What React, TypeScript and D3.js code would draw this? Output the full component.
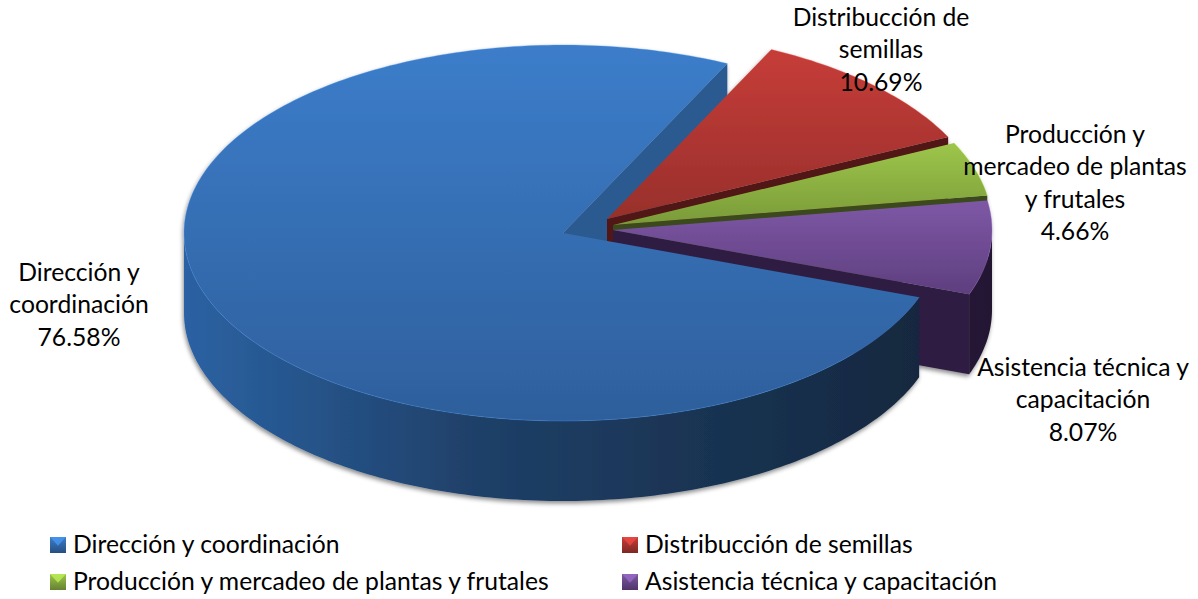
import React from "react";
import * as d3 from "d3";

const categories = [
  "Dirección y coordinación",
  "Distribucción de semillas",
  "Producción y mercadeo de plantas y frutales",
  "Asistencia técnica y capacitación",
];
const values = [76.58, 10.69, 4.66, 8.07];
const labelLines = [
  ["Dirección y", "coordinación"],
  ["Distribucción de", "semillas"],
  ["Producción y", "mercadeo de plantas", "y frutales"],
  ["Asistencia técnica y", "capacitación"],
];

// Layout and styling, apart from the data
const W = 1198, H = 599;
const RX = 379, RY = 188, DEPTH = 80;
const centers = [[563, 233], [607, 219], [613, 225], [613, 230]];
const labelPos = [[79, 273], [881, 18], [1075, 135], [1083, 368]];
const LINE = 32.3;
const gradY = [[45, 421], [48, 222], [143, 225], [200, 295]];
const topStops = [
  ["#3c7dca", "#2e5f9c"],
  ["#c73d39", "#972f2b"],
  ["#9dc64a", "#7a9a39"],
  ["#7e58a6", "#5e3e7e"],
];
const radialWall = ["#2a5a90", "#511412", "#3a4a1a", "#2e1e42"];
const outerStops = [
  ["#2b62a3", "#14283f"],
  ["#511412", "#3a0f0d"],
  ["#3a4a1a", "#2a3612"],
  ["#281a39", "#241733"],
];
const legendPos = [[50, 545], [622, 545], [50, 582], [622, 582]];
const fontFamily = "Lato, Carlito, 'Open Sans', sans-serif";
const FS = 24.7;

const rad = (d: number) => (d * Math.PI) / 180;
const pie = d3.pie<number>().sort(null).startAngle(rad(110)).endAngle(rad(470));
const arcs = pie(values);

const pt = (i: number, a: number, dy = 0): [number, number] => [
  centers[i][0] + RX * Math.sin(a),
  centers[i][1] - RY * Math.cos(a) + dy,
];
const sample = (a0: number, a1: number) => {
  const n = Math.max(2, Math.ceil(Math.abs(a1 - a0) / rad(1)));
  return d3.range(n + 1).map((k) => a0 + ((a1 - a0) * k) / n);
};
const line = d3.line<[number, number]>();

const topPath = (i: number) => {
  const { startAngle: s, endAngle: e } = arcs[i];
  return line([[centers[i][0], centers[i][1]], ...sample(s, e).map((a) => pt(i, a))]) + "Z";
};
const rimPath = (i: number) => {
  const { startAngle: s, endAngle: e } = arcs[i];
  return line(sample(s, e).map((a) => pt(i, a))) as string;
};
const radial = (i: number, a: number) => {
  const c: [number, number] = [centers[i][0], centers[i][1]];
  return line([c, pt(i, a), pt(i, a, DEPTH), [c[0], c[1] + DEPTH]]) + "Z";
};
const outerPath = (i: number) => {
  const { startAngle: s, endAngle: e } = arcs[i];
  const cand: [number, number][] = [[s, e], [s - 2 * Math.PI, e - 2 * Math.PI]];
  for (const [p, q] of cand) {
    const a0 = Math.max(p, rad(90));
    const a1 = Math.min(q, rad(270));
    if (a1 > a0) {
      const t = sample(a0, a1);
      return line([...t.map((a) => pt(i, a)), ...t.slice().reverse().map((a) => pt(i, a, DEPTH))]) + "Z";
    }
  }
  return null;
};

function Slice({ i }: { i: number }) {
  const { endAngle: e } = arcs[i];
  const outer = outerPath(i);
  return (
    <g>
      {i > 0 && <path d={radial(i, e)} fill={radialWall[i]} />}
      {outer && <path d={outer} fill={`url(#side${i})`} />}
      <path d={topPath(i)} fill={`url(#top${i})`} />
      <path d={rimPath(i)} fill="none" stroke={d3.color(topStops[i][0])!.brighter(0.5).formatHex()} strokeOpacity={0.35} strokeWidth={1} />
    </g>
  );
}

export default function App() {
  return (
    <svg width={W} height={H} viewBox={`0 0 ${W} ${H}`} style={{ position: "absolute", left: 0, top: 0, display: "block", background: "#fff" }} fontFamily={fontFamily} fontSize={FS} fill="#000">
      <defs>
        <filter id="sh" x="-5%" y="-5%" width="110%" height="112%">
          <feDropShadow dx={-1} dy={2.5} stdDeviation={2.2} floodColor="#000" floodOpacity={0.45} />
        </filter>
        {categories.map((_, i) => (
          <React.Fragment key={i}>
            <linearGradient id={`top${i}`} gradientUnits="userSpaceOnUse" x1={0} x2={0} y1={gradY[i][0]} y2={gradY[i][1]}>
              <stop offset="0" stopColor={topStops[i][0]} />
              <stop offset="1" stopColor={topStops[i][1]} />
            </linearGradient>
            <linearGradient id={`side${i}`} gradientUnits="userSpaceOnUse" x1={i === 0 ? 184 : 900} x2={i === 0 ? 918 : 995} y1={0} y2={0}>
              <stop offset="0" stopColor={outerStops[i][0]} />
              <stop offset={i === 0 ? 0.4 : 1} stopColor={i === 0 ? "#1f4068" : outerStops[i][1]} />
              <stop offset="1" stopColor={outerStops[i][1]} />
            </linearGradient>
            <linearGradient id={`sw${i}`} x1={0} x2={0} y1={0} y2={1}>
              <stop offset="0" stopColor={topStops[i][0]} />
              <stop offset="1" stopColor={d3.color(topStops[i][1])!.darker(0.5).formatHex()} />
            </linearGradient>
          </React.Fragment>
        ))}
      </defs>

      <g filter="url(#sh)">
        <path d={radial(0, arcs[0].endAngle)} fill={radialWall[0]} />
        <Slice i={1} />
        <Slice i={2} />
        <Slice i={3} />
        <Slice i={0} />
      </g>

      {categories.map((_, i) => (
        <text key={i} textAnchor="middle" x={labelPos[i][0]}>
          {[...labelLines[i], values[i].toFixed(2) + "%"].map((t, k) => (
            <tspan key={k} x={labelPos[i][0]} y={labelPos[i][1] + k * LINE + 8}>{t}</tspan>
          ))}
        </text>
      ))}

      {categories.map((c, i) => {
        const [x, y] = legendPos[i];
        const s = 16;
        const x0 = x, y0 = y - s / 2;
        return (
          <g key={c}>
            <rect x={x0} y={y0} width={s} height={s} fill={`url(#sw${i})`} />
            <path d={line([[x0, y0], [x0 + s, y0], [x0 + s / 2, y0 + s * 0.55]]) + "Z"} fill={d3.color(topStops[i][0])!.brighter(0.55).formatHex()} opacity={0.75} />
            <text x={x + 23} y={y + 8}>{c}</text>
          </g>
        );
      })}
    </svg>
  );
}
